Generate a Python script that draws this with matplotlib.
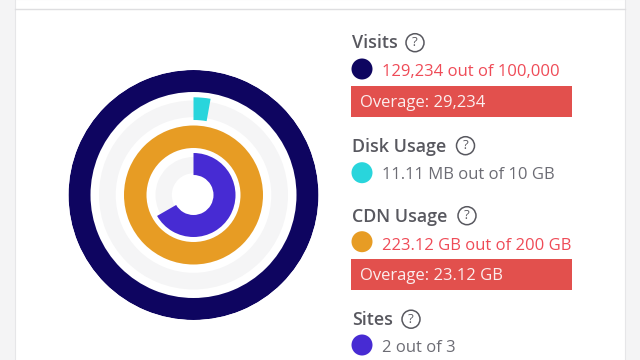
import matplotlib.pyplot as plt
from matplotlib.patches import Circle, Rectangle

plt.rcParams['font.family'] = ['Open Sans', 'DejaVu Sans']

# outer ring to inner ring
names = ['Visits', 'Disk Usage', 'CDN Usage', 'Sites']
fill_pct = [100, 2.8, 100, 66.7]
colors = ['#0e0560', '#29d5dc', '#e79c24', '#472bd3']
usage_text = ['129,234 out of 100,000', '11.11 MB out of 10 GB', '223.12 GB out of 200 GB', '2 out of 3']
overage_text = ['Overage: 29,234', None, 'Overage: 23.12 GB', None]
# coloured arcs are wider than the grey tracks behind them
ring_outer = [125, 97.7, 69.5, 42]
ring_inner = [103, 75, 47, 20]
track_outer = [120, 94.5, 65, 38]
track_inner = [107, 77.8, 51, 21.7]

# y of header baseline, value baseline, dot centre, bar top, help icon x
header_y = [48.5, 151.5, 221.5, 325]
value_y = [76.5, 179, 250, 352.5]
dot_y = [69, 172.7, 241.7, 345]
bar_top = [86, None, 259, None]
help_x = [415, 465.5, 467, 411]

GREY = '#58585f'
BODY = '#6c6c74'
RED = '#ef4b57'

fig = plt.figure(figsize=(6.4, 3.6), dpi=100, facecolor='#f4f4f5')

# background and legend, in pixel coordinates
bg = fig.add_axes([0, 0, 1, 1])
bg.set_xlim(0, 640)
bg.set_ylim(360, 0)
bg.axis('off')
bg.add_patch(Rectangle((15, -1), 610, 362, facecolor='white', edgecolor='#e6e6e8', lw=0.8))
bg.plot([15, 625], [8.8, 8.8], color='#dedee0', lw=1.0)

for i in range(len(names)):
    bg.text(352, header_y[i], names[i], fontsize=12.9, color=GREY, fontweight='semibold', va='baseline')
    bg.add_patch(Circle((help_x[i], header_y[i] - 5.8), 9, facecolor='none', edgecolor=GREY, lw=1.1))
    bg.text(help_x[i], header_y[i] - 5.8, '?', fontsize=9.5, color=GREY, ha='center', va='center')
    bg.add_patch(Circle((362, dot_y[i]), 10.5, facecolor=colors[i], edgecolor='none'))
    txt_color = RED if overage_text[i] else BODY
    bg.text(381.5, value_y[i], usage_text[i], fontsize=12.0, color=txt_color, va='baseline')
    if overage_text[i]:
        bg.add_patch(Rectangle((351, bar_top[i]), 221, 31, facecolor='#e2504d', edgecolor='none'))
        bg.text(360.5, bar_top[i] + 21, overage_text[i], fontsize=12.0, color='#fbeeee', va='baseline')

# rings, polar axes 250 px wide centred on (193.5, 195)
ax = fig.add_axes([(193.5 - 125) / 640, 1 - (195 + 125) / 360, 250 / 640, 250 / 360], projection='polar')
ax.patch.set_alpha(0)
ax.set_theta_zero_location('N')
ax.set_theta_direction(-1)
ax.set_ylim(0, 125)
ax.axis('off')

full = 2 * 3.141592653589793
for i in range(len(names)):
    ax.bar(0, track_outer[i] - track_inner[i], width=full, bottom=track_inner[i], align='edge', color='#f5f5f6', lw=0)
    ax.bar(0, ring_outer[i] - ring_inner[i], width=full * fill_pct[i] / 100, bottom=ring_inner[i], align='edge', color=colors[i], lw=0)

fig.savefig('out.png', dpi=100)
